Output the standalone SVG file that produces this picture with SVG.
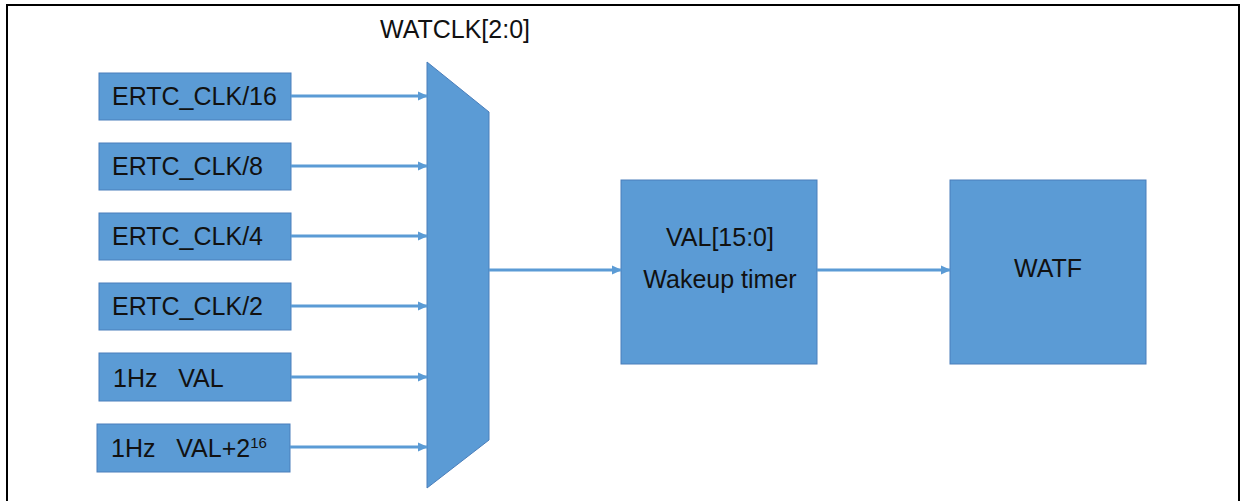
<svg xmlns="http://www.w3.org/2000/svg" width="1245" height="501" viewBox="0 0 1245 501">
<defs>
<style>
.box{fill:#5B9BD5;stroke:#4A7EBB;stroke-width:1}
.t{font-family:"Liberation Sans",Arial,sans-serif;font-size:25px;fill:#111}
.c{stroke:#5B9BD5;stroke-width:3;fill:none;marker-end:url(#ah)}
</style>
<marker id="ah" markerWidth="10" markerHeight="10" refX="9" refY="5" orient="auto" markerUnits="userSpaceOnUse" viewBox="0 0 10 10">
<path d="M0,0.5 L10,5 L0,9.5 Z" fill="#5B9BD5"/>
</marker>
</defs>
<rect x="0" y="0" width="1245" height="501" fill="#fff"/>
<path d="M7,505 V5 H1239 V505" fill="none" stroke="#000" stroke-width="2"/>
<text class="t" x="455" y="38" text-anchor="middle">WATCLK[2:0]</text>
<g id="in16"><rect class="box" x="99" y="73" width="192" height="47"/><text class="t" x="112" y="105">ERTC_CLK/16</text></g>
<g id="in8"><rect class="box" x="99" y="143" width="192" height="47"/><text class="t" x="112" y="175">ERTC_CLK/8</text></g>
<g id="in4"><rect class="box" x="99" y="213" width="192" height="47"/><text class="t" x="112" y="245">ERTC_CLK/4</text></g>
<g id="in2"><rect class="box" x="99" y="283" width="192" height="47"/><text class="t" x="112" y="315">ERTC_CLK/2</text></g>
<g id="in1hz"><rect class="box" x="99" y="353" width="192" height="48"/><text class="t" x="113" y="387" xml:space="preserve">1Hz   VAL</text></g>
<g id="in1hz16"><rect class="box" x="97" y="424" width="193" height="48"/><text class="t" x="111" y="457" xml:space="preserve">1Hz   VAL+2<tspan font-size="15" dy="-9">16</tspan></text></g>
<g id="mux"><polygon class="box" points="427,62 489,112 489,440 427,488"/></g>
<g id="timer"><rect class="box" x="621" y="180" width="196" height="184"/><text class="t" x="720" y="246" text-anchor="middle">VAL[15:0]</text><text class="t" x="720" y="288" text-anchor="middle">Wakeup timer</text></g>
<g id="watf"><rect class="box" x="950" y="180" width="196" height="184"/><text class="t" x="1048" y="277" text-anchor="middle">WATF</text></g>
<g id="connectors">
<line class="c" x1="291" y1="96" x2="427" y2="96"/>
<line class="c" x1="291" y1="166" x2="427" y2="166"/>
<line class="c" x1="291" y1="236" x2="427" y2="236"/>
<line class="c" x1="291" y1="306" x2="427" y2="306"/>
<line class="c" x1="291" y1="377" x2="427" y2="377"/>
<line class="c" x1="290" y1="447" x2="427" y2="447"/>
<line class="c" x1="489" y1="270" x2="621" y2="270"/>
<line class="c" x1="817" y1="270" x2="950" y2="270"/>
</g>
</svg>
